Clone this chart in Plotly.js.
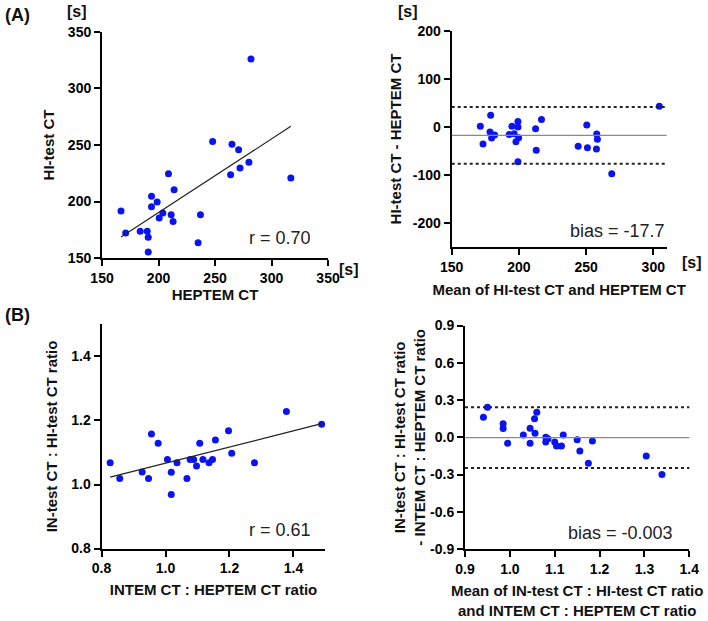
<!DOCTYPE html>
<html>
<head>
<meta charset="utf-8">
<script src="https://cdn.plot.ly/plotly-3.0.1.min.js"></script>
<style>
html,body{margin:0;padding:0;background:#fff;}
#chart{width:708px;height:621px;}
#chart .xtick text, #chart .ytick text, #chart .xtick tspan, #chart .ytick tspan { font-weight: 700 !important; }
</style>
</head>
<body>
<div id="chart"></div>
<script>
// ---- Panel A (left): HEPTEM CT vs HI-test CT [s]
const A_heptem = [166.8,170.9,183.8,190.0,190.9,190.9,193.8,193.8,198.8,200.6,203.8,208.8,211.2,212.9,213.8,235.0,237.1,247.9,263.8,265.0,270.9,272.1,280.0,281.8,317.1];
const A_hitest = [191.6,172.1,173.6,173.6,168.3,155.3,204.6,195.4,199.6,185.4,189.8,224.6,188.3,182.4,210.5,163.6,188.3,253.0,223.7,250.6,245.9,229.6,234.7,326.1,220.8];
const A_fitX = [166.8, 317.1];
const A_fitY = [168.6, 266.5];
const A_r = "r = 0.70";
const A_ticks = [150, 200, 250, 300, 350];
const A_tickText = ["150", "200", "250", "300", "350"];

// ---- Panel A (right): Bland-Altman
const BA_A_mean = [171.3,173.3,179.0,178.5,179.7,181.9,192.8,194.8,196.5,197.8,199.3,199.3,199.8,199.3,212.4,212.9,216.8,244.1,250.5,251.0,257.9,258.4,257.7,269.1,304.5];
const BA_A_diff = [1.4,-35.4,24.3,-10.4,-22.9,-16.6,-15.9,1.4,-13.9,-30.5,11.1,0.0,-22.2,-72.1,-3.5,-48.5,15.3,-40.2,4.2,-43.0,-14.6,-25.6,-45.8,-97.1,43.0];
const BA_A_bias = -17.7;
const BA_A_upper = 41.3;
const BA_A_lower = -76.7;
const BA_A_label = "bias = -17.7";
const BA_A_xticks = [150, 200, 250, 300];
const BA_A_xtickText = ["150", "200", "250", "300"];
const BA_A_yticks = [-200, -100, 0, 100, 200];
const BA_A_ytickText = ["-200", "-100", "0", "100", "200"];

// ---- Panel B (left): INTEM:HEPTEM ratio vs IN-test:HI-test ratio
const B_intem = [0.827,0.857,0.927,0.947,0.956,0.977,1.006,1.018,1.018,1.036,1.067,1.077,1.088,1.097,1.107,1.117,1.136,1.147,1.156,1.197,1.207,1.278,1.378,1.488];
const B_intest = [1.068,1.019,1.039,1.019,1.158,1.129,1.078,1.038,0.969,1.068,1.019,1.078,1.078,1.058,1.129,1.078,1.068,1.078,1.139,1.168,1.098,1.068,1.228,1.188];
const B_fitX = [0.827, 1.488];
const B_fitY = [1.023, 1.190];
const B_r = "r = 0.61";
const B_ticks = [0.8, 1.0, 1.2, 1.4];
const B_tickText = ["0.8", "1.0", "1.2", "1.4"];

// ---- Panel B (right): Bland-Altman
const BA_B_mean = [0.941,0.950,0.985,0.985,0.995,1.030,1.045,1.045,1.055,1.060,1.056,1.080,1.080,1.085,1.100,1.104,1.115,1.119,1.150,1.156,1.175,1.184,1.304,1.339];
const BA_B_diff = [0.161,0.242,0.110,0.070,-0.048,0.019,0.072,-0.048,0.150,0.201,0.032,0.000,-0.038,-0.011,-0.038,-0.070,-0.070,0.019,-0.019,-0.110,-0.209,-0.030,-0.150,-0.300];
const BA_B_bias = -0.003;
const BA_B_upper = 0.242;
const BA_B_lower = -0.248;
const BA_B_label = "bias = -0.003";
const BA_B_xticks = [0.9, 1.0, 1.1, 1.2, 1.3, 1.4];
const BA_B_xtickText = ["0.9", "1.0", "1.1", "1.2", "1.3", "1.4"];
const BA_B_yticks = [-0.9, -0.6, -0.3, 0.0, 0.3, 0.6, 0.9];
const BA_B_ytickText = ["-0.9", "-0.6", "-0.3", "0.0", "0.3", "0.6", "0.9"];

const FONT = "'Liberation Sans', Arial, sans-serif";
const BLUE = "#0a14f0";
const mk = {color: BLUE, size: 7};

const traces = [
  {x: A_heptem, y: A_hitest, xaxis:'x', yaxis:'y', mode:'markers', marker: mk, type:'scatter'},
  {x: A_fitX, y: A_fitY, xaxis:'x', yaxis:'y', mode:'lines', line:{color:'#222', width:1.2}, type:'scatter'},
  {x: BA_A_mean, y: BA_A_diff, xaxis:'x2', yaxis:'y2', mode:'markers', marker: mk, type:'scatter'},
  {x: B_intem, y: B_intest, xaxis:'x3', yaxis:'y3', mode:'markers', marker: mk, type:'scatter'},
  {x: B_fitX, y: B_fitY, xaxis:'x3', yaxis:'y3', mode:'lines', line:{color:'#222', width:1.2}, type:'scatter'},
  {x: BA_B_mean, y: BA_B_diff, xaxis:'x4', yaxis:'y4', mode:'markers', marker: mk, type:'scatter'}
];

const tickFont = {family: FONT, size: 14, color: '#000', weight: 700};
const titleFont = {family: FONT, size: 15, color: '#111', weight: 700};

function ax(extra) {
  return Object.assign({
    showline: true, linecolor: '#000', linewidth: 2,
    ticks: 'outside', ticklen: 6, tickwidth: 2, tickcolor: '#000',
    showgrid: false, zeroline: false, tickfont: tickFont, fixedrange: true,
    tickmode: 'array'
  }, extra);
}

function hline(xr, yr, y, color, dash, width) {
  return {type:'line', xref: xr + ' domain', yref: yr, x0: 0, x1: 1, y0: y, y1: y,
          line: {color: color, width: width, dash: dash}};
}

const layout = {
  width: 708, height: 621,
  margin: {l:0, r:0, t:0, b:0},
  paper_bgcolor: '#fff', plot_bgcolor: '#fff',
  showlegend: false,
  font: {family: FONT},
  xaxis: ax({domain:[0.1441,0.4633], anchor:'y', range:[150,350], tickvals:A_ticks, ticktext:A_tickText,
            title:{text:'<b>HEPTEM CT</b>', font: titleFont, standoff: 0}}),
  yaxis: ax({domain:[0.5845,0.9485], anchor:'x', range:[150,350], tickvals:A_ticks, ticktext:A_tickText,
            title:{text:'<b>HI-test CT</b>', font: titleFont, standoff: 10}}),
  xaxis2: ax({domain:[0.6380,0.9417], anchor:'y2', range:[150,310], tickvals:BA_A_xticks, ticktext:BA_A_xtickText,
            title:{text:'<b>Mean of HI-test CT and HEPTEM CT</b>', font: titleFont, standoff: 10}}),
  yaxis2: ax({domain:[0.6018,0.9506], anchor:'x2', range:[-250,200], tickvals:BA_A_yticks, ticktext:BA_A_ytickText,
            title:{text:'<b>HI-test CT - HEPTEM CT</b>', font: titleFont, standoff: 8}}),
  xaxis3: ax({domain:[0.1434,0.4597], anchor:'y3', range:[0.8,1.5], tickvals:B_ticks, ticktext:B_tickText,
            title:{text:'<b>INTEM CT : HEPTEM CT ratio</b>', font: titleFont, standoff: 9}}),
  yaxis3: ax({domain:[0.1167,0.4775], anchor:'x3', range:[0.8,1.5], tickvals:B_ticks, ticktext:B_tickText,
            title:{text:'<b>IN-test CT : HI-test CT ratio</b>', font: titleFont, standoff: 10}}),
  xaxis4: ax({domain:[0.6568,0.9736], anchor:'y4', range:[0.9,1.4], tickvals:BA_B_xticks, ticktext:BA_B_xtickText,
            title:{text:'<b>Mean of IN-test CT : HI-test CT ratio<br>and INTEM CT : HEPTEM CT ratio</b>', font: titleFont, standoff: 10}}),
  yaxis4: ax({domain:[0.1158,0.4758], anchor:'x4', range:[-0.9,0.9], tickvals:BA_B_yticks, ticktext:BA_B_ytickText,
            title:{text:'<b>IN-test CT : HI-test CT ratio<br>- INTEM CT : HEPTEM CT ratio</b>', font: titleFont, standoff: 1}}),
  shapes: [
    hline('x2','y2', BA_A_bias, '#8a8a8a', 'solid', 1.2),
    hline('x2','y2', BA_A_upper, '#222', 'dot', 2),
    hline('x2','y2', BA_A_lower, '#222', 'dot', 2),
    hline('x4','y4', BA_B_bias, '#8a8a8a', 'solid', 1.2),
    hline('x4','y4', BA_B_upper, '#222', 'dot', 2),
    hline('x4','y4', BA_B_lower, '#222', 'dot', 2)
  ],
  annotations: [
    {text: A_r, xref:'x', yref:'y', x:337, y:168, xanchor:'right', yanchor:'middle', showarrow:false,
     font:{family:FONT, size:18, color:'#222'}},
    {text: BA_A_label, xref:'x2', yref:'y2', x:310, y:-216, xanchor:'right', yanchor:'middle', showarrow:false,
     font:{family:FONT, size:18, color:'#222'}},
    {text: B_r, xref:'x3', yref:'y3', x:1.461, y:0.858, xanchor:'right', yanchor:'middle', showarrow:false,
     font:{family:FONT, size:18, color:'#222'}},
    {text: BA_B_label, xref:'x4', yref:'y4', x:1.369, y:-0.77, xanchor:'right', yanchor:'middle', showarrow:false,
     font:{family:FONT, size:18, color:'#222'}},
    {text:'<b>(A)</b>', xref:'paper', yref:'paper', x:3/708, y:1-15/621, xanchor:'left', yanchor:'middle', showarrow:false,
     font:{family:FONT, size:18, color:'#111'}},
    {text:'<b>(B)</b>', xref:'paper', yref:'paper', x:3/708, y:1-315/621, xanchor:'left', yanchor:'middle', showarrow:false,
     font:{family:FONT, size:18, color:'#111'}},
    {text:'<b>[s]</b>', xref:'paper', yref:'paper', x:77/708, y:1-12/621, xanchor:'center', yanchor:'middle', showarrow:false,
     font:{family:FONT, size:16, color:'#111'}},
    {text:'<b>[s]</b>', xref:'paper', yref:'paper', x:349/708, y:1-270/621, xanchor:'center', yanchor:'middle', showarrow:false,
     font:{family:FONT, size:16, color:'#111'}},
    {text:'<b>[s]</b>', xref:'paper', yref:'paper', x:408/708, y:1-12/621, xanchor:'center', yanchor:'middle', showarrow:false,
     font:{family:FONT, size:16, color:'#111'}},
    {text:'<b>[s]</b>', xref:'paper', yref:'paper', x:692/708, y:1-262/621, xanchor:'center', yanchor:'middle', showarrow:false,
     font:{family:FONT, size:16, color:'#111'}}
  ]
};

Plotly.newPlot('chart', traces, layout, {staticPlot: true, displayModeBar: false});
</script>
</body>
</html>
